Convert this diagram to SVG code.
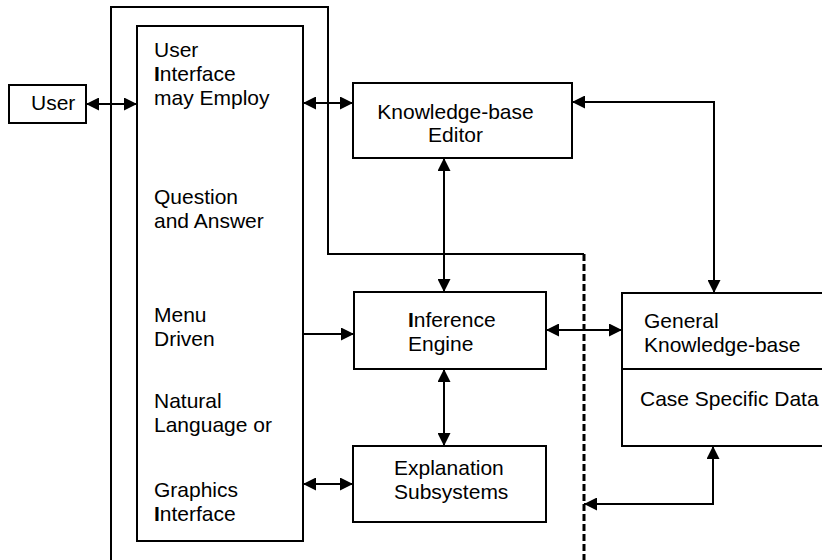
<svg xmlns="http://www.w3.org/2000/svg" width="822" height="560" viewBox="0 0 822 560">
  <style>
    .box { fill: #fff; stroke: #000; stroke-width: 2; }
    .lbl { font-family: "Liberation Sans", Arial, sans-serif; font-size: 21px; fill: #000; }
    .mid { text-anchor: middle; }
    .b { font-weight: bold; }
    .wire { fill: none; stroke: #000; stroke-width: 2; }
    .edge { fill: none; stroke: #000; stroke-width: 2; }
    .dash { fill: none; stroke: #000; stroke-width: 3; stroke-dasharray: 7 3; }
  </style>
  <defs>
    <marker id="head" viewBox="0 0 13 13" refX="13" refY="6.5" markerWidth="13" markerHeight="13" markerUnits="userSpaceOnUse" orient="auto-start-reverse">
      <path d="M0,0 L13,6.5 L0,13 z" fill="#000"/>
    </marker>
  </defs>
  <rect width="822" height="560" fill="#fff"/>

  <!-- system boundary: solid outline turning into a dashed divider -->
  <g id="boundary">
    <path class="edge" d="M111,560 V7 H328 V254 H584"/>
    <path class="dash" d="M584,254 V560"/>
  </g>

  <g id="user">
    <rect class="box" x="9" y="85" width="77" height="38"/>
    <text class="lbl" x="31" y="110">User</text>
  </g>

  <g id="user-interface">
    <rect class="box" x="137" y="26" width="166" height="515"/>
    <text class="lbl" x="154" y="57">User</text>
    <text class="lbl" x="154" y="81"><tspan class="b">I</tspan>nterface</text>
    <text class="lbl" x="154" y="105">may Employ</text>
    <text class="lbl" x="154" y="204">Question</text>
    <text class="lbl" x="154" y="228">and Answer</text>
    <text class="lbl" x="154" y="322">Menu</text>
    <text class="lbl" x="154" y="346">Driven</text>
    <text class="lbl" x="154" y="408">Natural</text>
    <text class="lbl" x="154" y="432">Language or</text>
    <text class="lbl" x="154" y="497">Graphics</text>
    <text class="lbl" x="154" y="521"><tspan class="b">I</tspan>nterface</text>
  </g>

  <g id="kb-editor">
    <rect class="box" x="353" y="83" width="219" height="75"/>
    <text class="lbl mid" x="455.5" y="119">Knowledge-base</text>
    <text class="lbl mid" x="455.5" y="142">Editor</text>
  </g>

  <g id="inference-engine">
    <rect class="box" x="354" y="292" width="192" height="77"/>
    <text class="lbl" x="408" y="327"><tspan class="b">I</tspan>nference</text>
    <text class="lbl" x="408" y="351">Engine</text>
  </g>

  <g id="explanation">
    <rect class="box" x="353" y="446" width="193" height="76"/>
    <text class="lbl" x="394" y="475">Explanation</text>
    <text class="lbl" x="394" y="499">Subsystems</text>
  </g>

  <g id="knowledge-base">
    <rect class="box" x="622" y="293" width="210" height="153"/>
    <line class="edge" x1="622" y1="369" x2="832" y2="369"/>
    <text class="lbl" x="644" y="328">General</text>
    <text class="lbl" x="644" y="352">Knowledge-base</text>
    <text class="lbl" x="640" y="406">Case Specific Data</text>
  </g>

  <g id="connectors">
    <line class="wire" x1="86" y1="104" x2="137" y2="104" marker-start="url(#head)" marker-end="url(#head)"/>
    <line class="wire" x1="303" y1="103" x2="353" y2="103" marker-start="url(#head)" marker-end="url(#head)"/>
    <line class="wire" x1="444" y1="158" x2="444" y2="292" marker-start="url(#head)" marker-end="url(#head)"/>
    <path class="wire" d="M572,102 H714 V293" marker-start="url(#head)" marker-end="url(#head)"/>
    <line class="wire" x1="303" y1="334" x2="354" y2="334" marker-end="url(#head)"/>
    <line class="wire" x1="546" y1="330" x2="622" y2="330" marker-start="url(#head)" marker-end="url(#head)"/>
    <line class="wire" x1="444" y1="369" x2="444" y2="446" marker-start="url(#head)" marker-end="url(#head)"/>
    <line class="wire" x1="303" y1="484" x2="353" y2="484" marker-start="url(#head)" marker-end="url(#head)"/>
    <path class="wire" d="M713,446 V504 H584" marker-start="url(#head)" marker-end="url(#head)"/>
  </g>
</svg>
